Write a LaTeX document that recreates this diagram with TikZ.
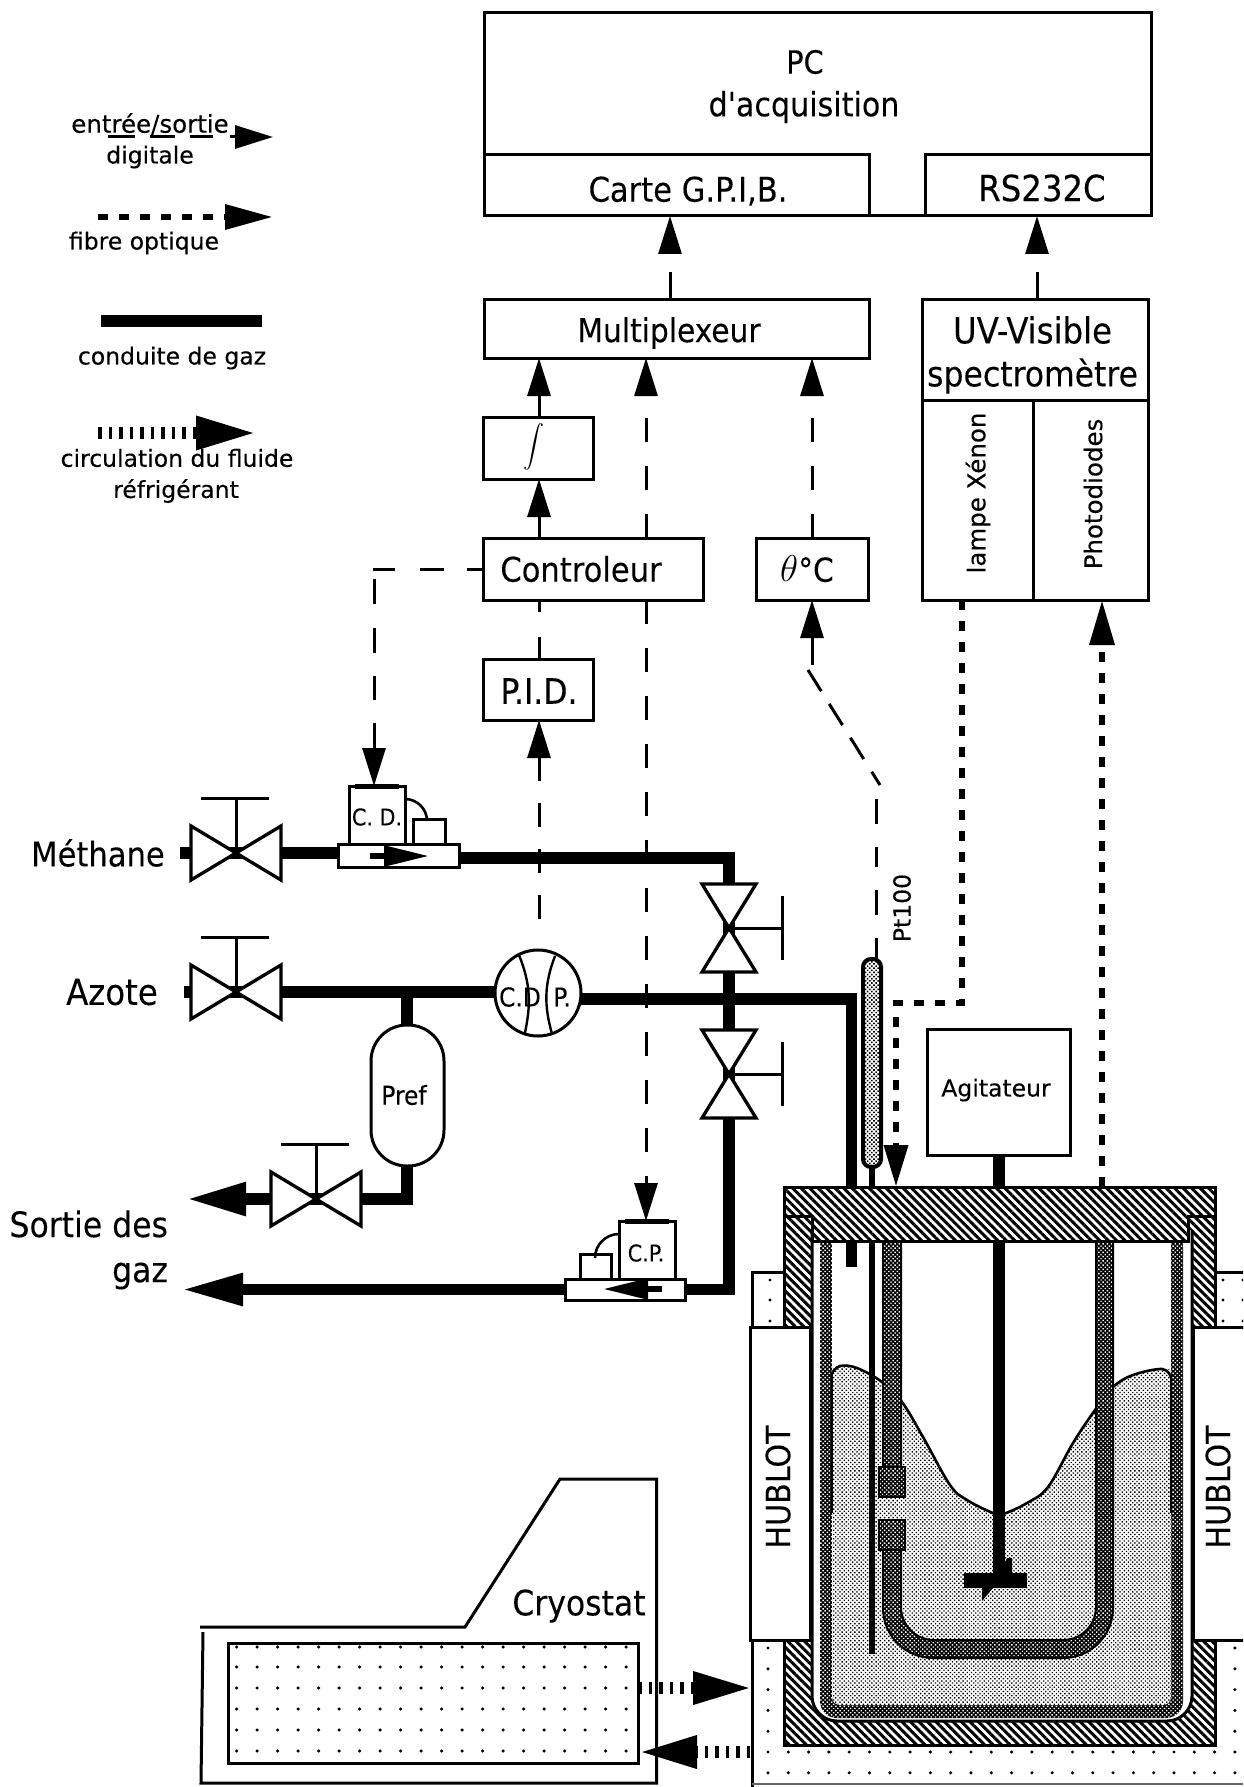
\documentclass[tikz,border=0pt]{standalone}
\usepackage{fontspec}
\setmainfont[FakeBold=0.12]{DejaVu Sans Condensed}
\newfontfamily\dvfont[FakeBold=0.22]{DejaVu Sans}
\newfontfamily\plainfont[FakeBold=0.12]{DejaVu Sans Condensed}
\usetikzlibrary{arrows.meta,patterns.meta,calc}
\newcommand{\bx}[7][]{%
  \pgfmathsetmacro\bxX{(#3+#5)/2}\pgfmathsetmacro\bxY{(#4+#6)/2}%
  \pgfmathsetmacro\bxW{#5-#3}\pgfmathsetmacro\bxH{#6-#4}%
  \node[box,minimum width=\bxW pt,minimum height=\bxH pt,#1] (#2) at (\bxX,\bxY) {#7};}
\newcommand{\fs}[1]{\fontsize{#1}{#1}\selectfont}
\newcommand{\valveH}[1]{%
  \draw[valve] ($(#1)+(-45,-27)$) -- ($(#1)+(45,27)$) -- ($(#1)+(45,-27)$) -- ($(#1)+(-45,27)$) -- cycle;
  \draw[stem] (#1) -- ($(#1)+(0,-55)$);
  \draw[stem] ($(#1)+(-35,-55)$) -- ($(#1)+(33,-55)$);}
\newcommand{\valveV}[1]{%
  \draw[valve] ($(#1)+(-27,-44)$) -- ($(#1)+(27,44)$) -- ($(#1)+(-27,44)$) -- ($(#1)+(27,-44)$) -- cycle;
  \draw[stem] (#1) -- ($(#1)+(53,0)$);
  \draw[stem] ($(#1)+(53,-32)$) -- ($(#1)+(53,32)$);}
\tikzset{
  box/.style={draw,line width=3pt,fill=white,inner sep=0pt,outer sep=0pt,rectangle,align=center},
  lbl/.style={inner sep=0pt,outer sep=0pt,align=center,font=\fs{33}},
  dvl/.style={inner sep=0pt,outer sep=0pt,align=center,font=\dvfont\fs{23.5}},
  sig/.style={line width=3pt},
  fibre/.style={line width=6.5pt,dash pattern=on 10pt off 11pt},
  ticks/.style={line width=12pt,dash pattern=on 3.5pt off 7pt},
  pipe/.style={line width=11.5pt,line join=miter},
  valve/.style={draw,line width=3.3pt,fill=white,line join=miter},
  stem/.style={line width=3pt},
  hd/.tip={Triangle[length=38pt,width=23pt]},
  fluidtex/.style={preaction={fill=white},pattern={Dots[radius=.95pt,distance=3pt,angle=45]},pattern color=black},
  coiltex/.style={preaction={fill=black},pattern={Dots[radius=1pt,distance=3pt,angle=45]},pattern color=white},
  probetex/.style={preaction={fill=white},pattern={Dots[radius=1.1pt,distance=3pt,angle=45]},pattern color=black},
  hatchtex/.style={preaction={fill=white},pattern={Lines[angle=-45,distance=6pt,line width=3pt]},pattern color=black},
  wall/.style={line width=3pt,line join=miter}
}
\begin{document}
\begin{tikzpicture}[x=1pt,y=-1pt]
\clip (0,0) rectangle (1243,1787);
\fill[white] (0,0) rectangle (1243,1787);

% ---------- named coordinates
\coordinate (lidtop) at (999,1187);
\coordinate (lidbot) at (999,1241);
\coordinate (vmeth) at (236,853);
\coordinate (vazo) at (236,992);
\coordinate (vout) at (316,1199);
\coordinate (vup) at (729,928);
\coordinate (vdn) at (729,1074);
\coordinate (cA) at (670,0);
\coordinate (cB) at (1037,0);
\coordinate (cC) at (539,0);
\coordinate (cD) at (646,0);
\coordinate (cE) at (812,0);
\coordinate (cF) at (962,0);
\coordinate (cG) at (1102,0);
\coordinate (cH) at (374,0);

% ---------- upper boxes
\bx{pc}{484}{13}{1151}{216}{}
\bx{carte}{484}{155}{869}{216}{}
\bx{rs}{925}{155}{1151}{216}{}
\node[lbl,font=\fs{32}] (pcT) at (805,62) {PC};
\node[lbl,font=\plainfont\fs{33.5}] (acqT) at (804,107) {d'acquisition};
\node[lbl,font=\fs{34}] (carteT) at (688,191) {Carte G.P.I,B.};
\node[lbl,font=\fs{36}] (rsT) at (1042,188) {RS232C};
\bx{mux}{484}{299}{869}{358}{}
\node[lbl] (muxT) at (669,333) {Multiplexeur};
\bx{uvt}{922}{299}{1148}{400}{}
\node[lbl,font=\fs{36}] (uvT) at (1032.5,330) {UV-Visible};
\node[lbl,font=\fs{35}] (specT) at (1032.5,376) {spectromètre};
\bx{lamp}{922}{400}{1033}{600}{}
\bx{photo}{1033}{400}{1148}{600}{}
\node[dvl,rotate=90,font=\dvfont\fs{24.5}] (lampT) at (978,493) {lampe Xénon};
\node[dvl,rotate=90,font=\dvfont\fs{24.5}] (photoT) at (1093,494) {Photodiodes};
\bx{integ}{483}{417}{593}{479}{}
\node[inner sep=0pt] (integT) at (534,447) {\scalebox{2.1}{$\displaystyle\int$}};
\bx{ctrl}{483}{538}{703}{600}{}
\node[lbl,font=\fs{34}] (ctrlT) at (581,569) {Controleur};
\bx{theta}{756}{538}{868}{600}{}
\node[lbl] (thetaT) at (807,569) {\scalebox{1.5}{$\theta$}°C};
\bx{pid}{483}{659}{593}{720}{}
\node[lbl,font=\fs{35}] (pidT) at (539,691) {P.I.D.};

% ---------- devices on gas lines
\bx{meterM}{338}{844}{459}{867}{}
\bx{cd}{349}{786}{405}{844}{}
\bx{smallM}{413}{819}{445}{844}{}
\node[lbl,font=\fs{23}] (cdT) at (377,817) {C. D.};
\bx{meterP}{565}{1279}{685}{1300}{}
\bx{cp}{619}{1221}{675}{1279}{}
\bx{smallP}{580}{1254}{611}{1279}{}
\node[lbl,font=\fs{23}] (cpT) at (646,1253) {C.P.};
\node[circle,draw,line width=3pt,fill=white,minimum size=86pt,inner sep=0pt,outer sep=0pt] (cdp) at (538,993) {};
\node[box,rounded corners=36pt,minimum width=73pt,minimum height=141pt] (pref) at (407.5,1095.5) {};
\node[lbl,font=\fs{26}] (prefT) at (404,1095) {Pref};
\node[lbl,font=\fs{26}] (cdT2) at (520,997) {C.D};
\node[lbl,font=\fs{26}] (pT2) at (562,997) {P.};
\draw[line width=2.4pt] (519,955) .. controls (531,985) and (531,1005) .. (524.5,1035);
\draw[line width=2.4pt] (555,956) .. controls (544,985) and (544,1005) .. (552,1034);
\draw[line width=5pt] (355,786) -- (399,786);
\draw[line width=5pt] (625,1221) -- (669,1221);
\draw[line width=2.6pt] (cd.east |- 0,799) arc[start angle=90,end angle=0,radius=22pt];
\draw[line width=2.6pt] (cp.west |- 0,1234) arc[start angle=90,end angle=180,radius=24pt];

% ---------- gas lines
\coordinate (pmr) at (459,858);
\coordinate (pa) at (851.5,999);
\draw[pipe] (vmeth -| 180,0) -- (vmeth) ;
\draw[pipe] (vmeth) -- (vmeth -| meterM.west);
\draw[pipe] (pmr) -| (vup);
\draw[pipe] (vazo -| 184,0) -- (vazo) -- (vazo -| cdp.west);
\draw[pipe] (pa -| cdp.east) -- (pa) -- (pa |- lidtop);
\draw[pipe] (vup) -- (vdn);
\draw[pipe] (vdn) |- (meterP.east);
\draw[pipe] (407,992) -- (pref.north -| 407,0);
\draw[pipe] (pref.south -| 407,0) |- (vout);
\draw[pipe,-{Triangle[length=60pt,width=31pt]}] (vout) -- (186,1203 |- vout);
\draw[pipe,-{Triangle[length=62pt,width=30pt]}] (meterP.west) -- (181,0 |- meterP.west);
\draw[line width=5.5pt,-{Triangle[length=45pt,width=20pt]}] (370,856) -- (429,856);
\draw[line width=5.5pt,-{Triangle[length=45pt,width=20pt]}] (662,1289) -- (603,1289);
\valveH{vmeth}
\valveH{vazo}
\valveH{vout}
\valveV{vup}
\valveV{vdn}

% ---------- digital connectors
\draw[sig,dash pattern=on 27pt off 40pt,-hd] (mux.north -| cA) -- (carte.south -| cA);
\draw[sig,dash pattern=on 27pt off 40pt,-hd] (uvt.north -| cB) -- (rs.south -| cB);
\draw[sig,-hd] (integ.north -| cC) -- (mux.south -| cC);
\draw[sig,-hd] (ctrl.north -| cC) -- (integ.south -| cC);
\draw[sig,dash pattern=on 24pt off 24pt,-hd] (ctrl.north -| cD) -- (mux.south -| cD);
\draw[sig,dash pattern=on 24pt off 24pt,-hd] (ctrl.south -| cD) -- (cp.north -| cD);
\draw[sig,dash pattern=on 24pt off 24pt,-hd] (theta.north -| cE) -- (mux.south -| cE);
\draw[sig,dash pattern=on 22pt off 25pt] (pid.north -| cC) -- (ctrl.south -| cC);
\coordinate (pidend) at (539,927);
\draw[sig,dash pattern=on 24pt off 22pt,hd-] (pid.south -| cC) -- (pidend);
\draw[sig,dash pattern=on 16pt off 23pt on 24pt off 25pt on 23pt off 8pt on 25pt off 24pt on 25pt off 23pt on 24pt off 23pt on 25pt off 5pt,-hd] (ctrl.west) -- (ctrl.west -| cH) -- (cd.north -| cH);
% Pt100 wire
\coordinate (bendA) at (808,670);
\coordinate (bendB) at (880,785);
\coordinate (wireTop) at (876,793);
\coordinate (wireEnd) at (812,665);
\draw[sig,hd-] (theta.south -| cE) -- (wireEnd);
\draw[sig,dash pattern=on 25pt off 15pt] (bendA) -- (bendB);
\draw[sig,dash pattern=on 20pt off 23pt on 25pt off 23pt] (876,958) -- (wireTop);

% ---------- legend
\coordinate (lgA) at (108,137);
\draw[line width=3pt,dash pattern=on 27pt off 15pt on 25pt off 15pt on 23pt off 17pt,-hd] (lgA) -- (273,137);
\node[dvl,font=\dvfont\fs{24.5}] (lgAt) at (150,124) {entrée/sortie};
\node[dvl] (lgAu) at (150,157) {digitale};
\coordinate (lgB) at (98,217);
\draw[fibre,-{Triangle[length=48pt,width=24pt]}] (lgB) -- (273,217);
\node[dvl] (lgBt) at (144,243) {fibre optique};
\coordinate (lgC) at (101,321);
\draw[pipe] (lgC) -- (262,321);
\node[dvl] (lgCt) at (172,358) {conduite de gaz};
\coordinate (lgD) at (98,433);
\draw[ticks,-{Triangle[length=61pt,width=31pt]}] (lgD) -- (257,433);
\node[dvl] (lgDt) at (177,458) {circulation du fluide};
\node[dvl] (lgDu) at (176,491) {réfrigérant};

% ---------- gas labels
\node[lbl,font=\fs{34}] (meT) at (98,853) {Méthane};
\node[lbl,font=\fs{36}] (azT) at (112,992) {Azote};
\node[lbl,font=\fs{35},anchor=east] (soT) at (168,1224) {Sortie des};
\node[lbl,font=\fs{35},anchor=east] (gaT) at (168,1276) {gaz};
\node[dvl,rotate=90] (ptT) at (902,908) {Pt100};

% ---------- dotted surroundings
\foreach \c in {0,...,23}
  \foreach \r in {0,...,6}
    \fill ({768+20.3*\c},{1648+20.8*\r}) circle[radius=1.7pt];
\draw[wall] (752,1640) -- (752,1787);
\draw[line width=1.4pt,black!60] (752,1784) -- (1243,1784);
\draw[wall,fill=white] (784,1327) -- (752,1327) -- (752,1272) -- (784,1272);
\draw[wall,fill=white] (1215,1327) -- (1250,1327) -- (1250,1272) -- (1215,1272);
\foreach \r in {1280,1300,1321}{
  \fill (770,\r) circle[radius=1.7pt];
  \fill (1223,\r) circle[radius=1.7pt];
  \fill (1243,\r) circle[radius=1.7pt];}

% ---------- vessel
\draw[wall,hatchtex] (784,1216) rectangle (1215,1745);
\draw[wall,fill=white,rounded corners=25pt] (812,1230) -- (812,1721) -- (1192,1721) -- (1192,1230);
% cooling jacket
\path[coiltex,rounded corners=17pt] (820,1230) -- (820,1718) -- (1183,1718) -- (1183,1230) -- cycle;
\fill[white] (832,1241) rectangle (1171,1530);
\path[fluidtex,rounded corners=8pt] (832,1705) -- (832,1373) -- plot[smooth,tension=.6] coordinates {(832,1373) (840,1366) (857,1368) (882,1382) (902,1402) (923,1437) (950,1485) (967,1500) (993,1513) (1003,1514) (1027,1503) (1048,1487) (1073,1443) (1095,1410) (1113,1387) (1133,1375) (1162,1369) (1171,1377)} -- (1171,1705) -- cycle;
\draw[line width=2.6pt] plot[smooth,tension=.6] coordinates {(832,1373) (840,1366) (857,1368) (882,1382) (902,1402) (923,1437) (950,1485) (967,1500) (993,1513) (1003,1514) (1027,1503) (1048,1487) (1073,1443) (1095,1410) (1113,1387) (1133,1375) (1162,1369) (1171,1377)};
\draw[line width=2.4pt] (1171,1377) -- (1171,1513);
\draw[line width=2.4pt] (832,1373) -- (832,1513);
% coil
\path[coiltex] (883,1241) [rounded corners=50pt] -- (883,1658) -- (1113,1658) [sharp corners] -- (1113,1241) -- (1096,1241) [rounded corners=33pt] -- (1096,1640) -- (901,1640) [sharp corners] -- (901,1241) -- cycle;
\draw[line width=2pt] (883,1241) [rounded corners=50pt] -- (883,1658) -- (1113,1658) [sharp corners] -- (1113,1241) (1096,1241) [rounded corners=33pt] -- (1096,1640) -- (901,1640) [sharp corners] -- (901,1241);
\path[fluidtex] (877,1497) rectangle (907,1520);
\draw[line width=2.6pt,coiltex] (879,1467) rectangle (905,1497);
\draw[line width=2.6pt,coiltex] (879,1520) rectangle (905,1550);
% thermowire, inlet, stirrer
\coordinate (probeTip) at (872,1654);
\draw[line width=6pt] (872,1167) -- (probeTip);
\draw[pipe] (851.5,1187) -- (851.5,1267);
\draw[pipe] (lidtop) -- (999,1573);
\fill (964,1573) rectangle (1027,1588);
\fill (1007,1558) -- (1012,1558) -- (1012,1573) -- (1000,1573) -- cycle;
\fill (982,1588) -- (993,1588) -- (982,1601) -- cycle;
% probe
\draw[line width=4pt,probetex,rounded corners=8pt] (863,959) rectangle (881,1167);
% lid
\draw[wall,hatchtex] (784,1187) -- (1215,1187) -- (1215,1216) -- (1188,1216) -- (1188,1241) -- (812,1241) -- (812,1216) -- (784,1216) -- cycle;
% hublots
\bx{hubL}{750}{1327}{810}{1640}{}
\bx{hubR}{1193}{1327}{1260}{1640}{}
\node[lbl,rotate=90,font=\fs{33.5}] (hubLT) at (778,1487) {HUBLOT};
\node[lbl,rotate=90,font=\fs{33.5}] (hubRT) at (1218,1487) {HUBLOT};
% agitator
\bx{agit}{927}{1029}{1070}{1155}{}
\node[dvl] (agitT) at (996,1090) {Agitateur};
\draw[pipe] (agit.south -| lidtop) -- (lidtop);
% optical fibres
\coordinate (fibreCorner) at (962,1003);
\coordinate (fibreTurn) at (896,1003);
\draw[fibre,-{Triangle[length=42pt,width=23pt]}] (lamp.south -| cF) -- (fibreCorner) -- (fibreTurn) -- (lidtop -| fibreTurn);
\draw[fibre,-{Triangle[length=45pt,width=24pt]}] (lidtop -| cG) -- (photo.south -| cG);

% ---------- cryostat
\draw[line width=3pt,line join=miter] (200,1627) -- (465,1627) -- (560,1479) -- (656.5,1479) -- (656.5,1783) -- (201,1783) -- (203,1632);
\bx[fill=none]{bath}{228}{1643}{638}{1763}{}
\node[lbl,font=\fs{35}] (cryT) at (579,1606) {Cryostat};
\foreach \c in {0,...,19}
  \foreach \r in {1647,1667,1688,1709,1730,1751}
    \fill ({236.6+20.5*\c},\r) circle[radius=1.7pt];
\coordinate (hubGate) at (753,1688);
\coordinate (hubGateB) at (750,1752);
\draw[ticks,-{Triangle[length=60pt,width=30pt]}] (bath.east |- hubGate) -- (hubGate);
\draw[ticks,-{Triangle[length=59pt,width=30pt]}] (hubGateB) -- (bath.east |- hubGateB);
\end{tikzpicture}
\end{document}
